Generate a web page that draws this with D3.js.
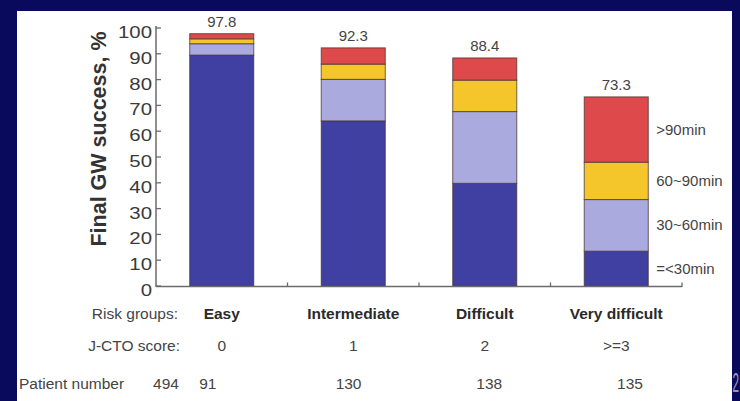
<!DOCTYPE html>
<html><head><meta charset="utf-8">
<script src="https://cdn.jsdelivr.net/npm/d3@7"></script>
<style>html,body{margin:0;padding:0;background:#0a0a5c;}svg{display:block;}</style>
</head><body>
<script>
// ---- data ----
const categories = ["Easy", "Intermediate", "Difficult", "Very difficult"];
const jctoScores = ["0", "1", "2", ">=3"];
const patientNumbers = ["91", "130", "138", "135"];
const patientTotal = "494";
const seriesNames = ["=<30min", "30~60min", "60~90min", ">90min"];
const under30 = [89.5, 64.0, 39.8, 13.5];
const from30to60 = [4.4, 16.1, 27.8, 20.0];
const from60to90 = [1.9, 5.9, 12.2, 14.5];
const over90 = [2.0, 6.3, 8.6, 25.3];
const totals = [97.8, 92.3, 88.4, 73.3];
const yTicks = [0, 10, 20, 30, 40, 50, 60, 70, 80, 90, 100];
const seriesColors = ["#4040a2", "#aaaade", "#f4c62c", "#de4a4b"];

const W = 740, H = 401;
const svg = d3.select("body").append("svg").attr("width", W).attr("height", H);
svg.append("rect").attr("width", W).attr("height", H).attr("fill", "#0a0a5c");
svg.append("rect").attr("x", 17).attr("y", 11).attr("width", 715).attr("height", H - 11).attr("fill", "#ffffff");

const x = d3.scaleBand().domain(categories).range([156, 682]).paddingInner(0.513).paddingOuter(0.2565);
const y = d3.scaleLinear().domain([0, 100]).range([286, 28]);
const cx = c => x(c) + x.bandwidth() / 2;

const rows = categories.map((c, i) => ({
  cat: c, "=<30min": under30[i], "30~60min": from30to60[i], "60~90min": from60to90[i], ">90min": over90[i]
}));
const stacked = d3.stack().keys(seriesNames)(rows);

// bars
const g = svg.append("g");
stacked.forEach((layer, li) => {
  g.selectAll(null).data(layer).enter().append("rect")
    .attr("x", d => x(d.data.cat))
    .attr("width", x.bandwidth())
    .attr("y", d => y(d[1]))
    .attr("height", d => y(d[0]) - y(d[1]))
    .attr("fill", seriesColors[li])
    .attr("stroke", "rgba(70,50,50,0.75)")
    .attr("stroke-width", 1);
});

// value labels
g.selectAll(null).data(categories).enter().append("text")
  .attr("x", c => cx(c))
  .attr("y", (c, i) => y(totals[i]) - 7)
  .attr("text-anchor", "middle")
  .attr("font-family", "Liberation Sans, Arial, sans-serif")
  .attr("font-size", 15).attr("fill", "#444")
  .text((c, i) => totals[i].toFixed(1));

// legend labels next to last bar
const last = categories.length - 1;
const lastBarRight = x(categories[last]) + x.bandwidth();
stacked.forEach((layer, li) => {
  const d = layer[last];
  svg.append("text")
    .attr("x", lastBarRight + 8)
    .attr("y", (y(d[0]) + y(d[1])) / 2 + 5)
    .attr("font-family", "Liberation Sans, Arial, sans-serif")
    .attr("font-size", 15).attr("fill", "#444")
    .text(seriesNames[li]);
});

// y axis
const axisColor = "#6b6b6b";
svg.append("line").attr("x1", 156).attr("x2", 156).attr("y1", y(0) + 1).attr("y2", y(100) - 2)
  .attr("stroke", axisColor).attr("stroke-width", 1.5);
svg.selectAll(null).data(yTicks).enter().append("line")
  .attr("x1", 156).attr("x2", 161).attr("y1", d => y(d)).attr("y2", d => y(d))
  .attr("stroke", axisColor).attr("stroke-width", 1.3);
svg.selectAll(null).data(yTicks).enter().append("text")
  .attr("transform", d => `translate(152,${y(d) + 10}) scale(1.2,1)`)
  .attr("text-anchor", "end")
  .attr("font-family", "Liberation Sans, Arial, sans-serif")
  .attr("font-size", 17).attr("fill", "#3a3a3a")
  .text(d => d);

// y title
svg.append("text")
  .attr("transform", "translate(106,139) rotate(-90)")
  .attr("text-anchor", "middle")
  .attr("font-family", "Liberation Sans, Arial, sans-serif")
  .attr("font-weight", "bold")
  .attr("font-size", 21.5).attr("fill", "#333")
  .text("Final GW success, %");

// x axis
svg.append("line").attr("x1", 156).attr("x2", 682).attr("y1", 286.5).attr("y2", 286.5)
  .attr("stroke", axisColor).attr("stroke-width", 1.5);
svg.selectAll(null).data(categories).enter().append("line")
  .attr("x1", c => x(c) + x.bandwidth() + x.step() * x.paddingInner() / 2)
  .attr("x2", c => x(c) + x.bandwidth() + x.step() * x.paddingInner() / 2)
  .attr("y1", 282.5).attr("y2", 287)
  .attr("stroke", axisColor).attr("stroke-width", 1.3);

// table rows
const font = "Liberation Sans, Arial, sans-serif";
svg.append("text").attr("x", 178).attr("y", 319).attr("text-anchor", "end")
  .attr("font-family", font).attr("font-size", 15.5).attr("fill", "#444").text("Risk groups:");
svg.selectAll(null).data(categories).enter().append("text")
  .attr("x", c => cx(c)).attr("y", 319).attr("text-anchor", "middle")
  .attr("font-family", font).attr("font-weight", "bold").attr("font-size", 15.5).attr("fill", "#2a2a2a")
  .text(c => c);

svg.append("text").attr("x", 180).attr("y", 351).attr("text-anchor", "end")
  .attr("font-family", font).attr("font-size", 15.5).attr("fill", "#444").text("J-CTO score:");
svg.selectAll(null).data(categories).enter().append("text")
  .attr("x", c => cx(c)).attr("y", 351).attr("text-anchor", "middle")
  .attr("font-family", font).attr("font-size", 15.5).attr("fill", "#444")
  .text((c, i) => jctoScores[i]);

svg.append("text").attr("x", 19).attr("y", 389).attr("text-anchor", "start")
  .attr("font-family", font).attr("font-size", 15.5).attr("fill", "#444").text("Patient number");
svg.append("text").attr("x", 166).attr("y", 389).attr("text-anchor", "middle")
  .attr("font-family", font).attr("font-size", 15.5).attr("fill", "#444").text(patientTotal);
const mid = 420;
svg.selectAll(null).data(categories).enter().append("text")
  .attr("x", c => mid + (cx(c) - mid) * 1.07).attr("y", 389).attr("text-anchor", "middle")
  .attr("font-family", font).attr("font-size", 15.5).attr("fill", "#444")
  .text((c, i) => patientNumbers[i]);

// slide number in the right margin (compressed to fit the narrow strip)
svg.append("text").attr("transform", "translate(732.5,392) scale(0.42,1)")
  .attr("font-family", font).attr("font-size", 28).attr("fill", "#9a9ab0").text("2");
</script>
</body></html>
